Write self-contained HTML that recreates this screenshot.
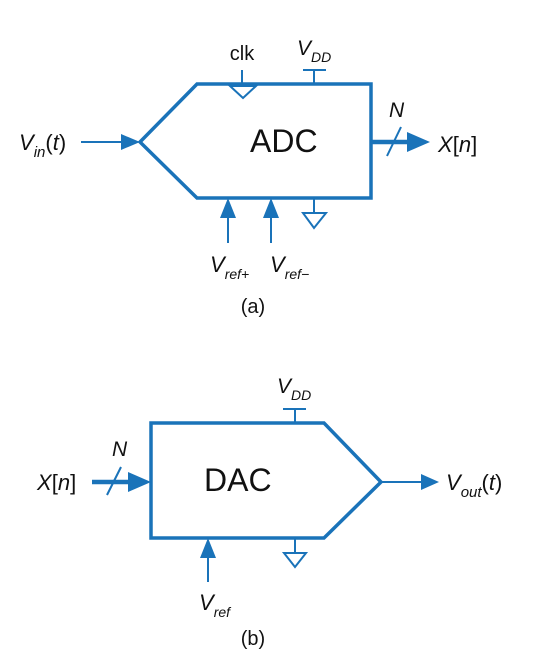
<!DOCTYPE html>
<html><head><meta charset="utf-8"><style>
html,body{margin:0;padding:0;background:#fff;}
svg{display:block;}
text{font-family:"Liberation Sans",Arial,sans-serif;fill:#111;}
.it{font-style:italic;}
</style></head><body>
<svg width="550" height="666" viewBox="0 0 550 666">
<g stroke="#1a73b9" fill="none">
  <polygon points="140,142 197,84 371,84 371,198 197,198" stroke-width="3.5"/>
  <line x1="242" y1="70" x2="242" y2="84" stroke-width="2"/>
  <polygon points="230,86 256,86 243,98" stroke-width="2"/>
  <line x1="314" y1="70" x2="314" y2="84" stroke-width="2"/>
  <line x1="303" y1="70" x2="326" y2="70" stroke-width="2"/>
  <line x1="81" y1="142" x2="125" y2="142" stroke-width="2"/>
  <polygon points="121,134 140,142 121,150" fill="#1a73b9" stroke="none"/>
  <line x1="371" y1="142" x2="410" y2="142" stroke-width="4.5"/>
  <polygon points="407,132 430,142 407,152" fill="#1a73b9" stroke="none"/>
  <line x1="387" y1="156" x2="401" y2="127" stroke-width="2"/>
  <line x1="228" y1="243" x2="228" y2="214" stroke-width="2"/>
  <polygon points="220,218 228,198 236,218" fill="#1a73b9" stroke="none"/>
  <line x1="271" y1="243" x2="271" y2="214" stroke-width="2"/>
  <polygon points="263,218 271,198 279,218" fill="#1a73b9" stroke="none"/>
  <line x1="314" y1="198" x2="314" y2="213" stroke-width="2"/>
  <polygon points="303,213 326,213 314,228" stroke-width="2"/>
</g>
<g>
  <text x="242" y="60" font-size="20" text-anchor="middle">clk</text>
  <text x="297" y="55" font-size="21" class="it">V<tspan font-size="14" dy="7">DD</tspan></text>
  <text x="19" y="150" font-size="22" class="it">V<tspan font-size="15" dy="7">in</tspan><tspan dy="-7" font-style="normal">(</tspan>t<tspan font-style="normal">)</tspan></text>
  <text x="250" y="152" font-size="32">ADC</text>
  <text x="389" y="117" font-size="21" class="it">N</text>
  <text x="438" y="152" font-size="22" class="it">X<tspan font-style="normal">[</tspan>n<tspan font-style="normal">]</tspan></text>
  <text x="210" y="272" font-size="22" class="it">V<tspan font-size="14" dy="7">ref+</tspan></text>
  <text x="270" y="272" font-size="22" class="it">V<tspan font-size="14" dy="7">ref−</tspan></text>
  <text x="253" y="313" font-size="20" text-anchor="middle">(a)</text>
</g>
<g stroke="#1a73b9" fill="none">
  <polygon points="151,423 324,423 381,482 324,538 151,538" stroke-width="3.5"/>
  <line x1="295" y1="409" x2="295" y2="423" stroke-width="2"/>
  <line x1="283" y1="409" x2="306" y2="409" stroke-width="2"/>
  <line x1="92" y1="482" x2="132" y2="482" stroke-width="4.5"/>
  <polygon points="128,472 151,482 128,492" fill="#1a73b9" stroke="none"/>
  <line x1="107" y1="495" x2="121" y2="467" stroke-width="2"/>
  <line x1="381" y1="482" x2="424" y2="482" stroke-width="2"/>
  <polygon points="421,474 439,482 421,490" fill="#1a73b9" stroke="none"/>
  <line x1="208" y1="582" x2="208" y2="554" stroke-width="2"/>
  <polygon points="200,558 208,538 216,558" fill="#1a73b9" stroke="none"/>
  <line x1="295" y1="538" x2="295" y2="553" stroke-width="2"/>
  <polygon points="284,553 306,553 295,567" stroke-width="2"/>
</g>
<g>
  <text x="277" y="393" font-size="21" class="it">V<tspan font-size="14" dy="7">DD</tspan></text>
  <text x="112" y="456" font-size="21" class="it">N</text>
  <text x="37" y="490" font-size="22" class="it">X<tspan font-style="normal">[</tspan>n<tspan font-style="normal">]</tspan></text>
  <text x="204" y="491" font-size="32">DAC</text>
  <text x="446" y="490" font-size="22" class="it">V<tspan font-size="15" dy="7">out</tspan><tspan dy="-7" font-style="normal">(</tspan>t<tspan font-style="normal">)</tspan></text>
  <text x="199" y="610" font-size="22" class="it">V<tspan font-size="14" dy="7">ref</tspan></text>
  <text x="253" y="645" font-size="20" text-anchor="middle">(b)</text>
</g>
</svg>
</body></html>
